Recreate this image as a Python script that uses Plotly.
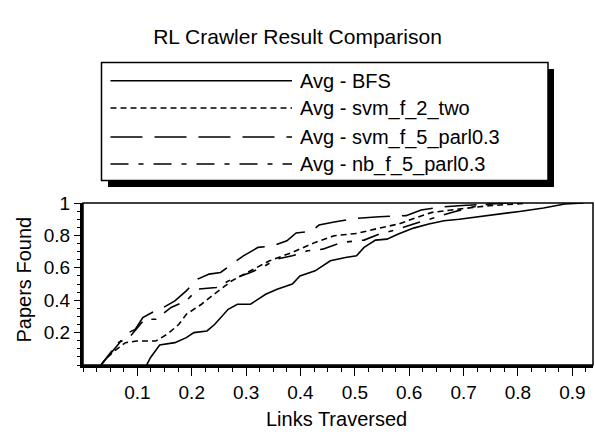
import plotly.graph_objects as go

# ---------------- data ----------------
bfs_x = [0.117, 0.124, 0.141, 0.169, 0.19, 0.204, 0.228, 0.242, 0.267, 0.284, 0.308, 0.336,
         0.357, 0.385, 0.399, 0.427, 0.455, 0.483, 0.503, 0.517, 0.538, 0.559, 0.58, 0.608,
         0.636, 0.664, 0.692, 0.72, 0.754, 0.803, 0.847, 0.886, 0.921]
bfs_y = [0.0, 0.045, 0.124, 0.138, 0.169, 0.2, 0.21, 0.25, 0.344, 0.375, 0.375, 0.437,
         0.468, 0.5, 0.55, 0.581, 0.643, 0.664, 0.674, 0.726, 0.771, 0.777, 0.808, 0.845,
         0.87, 0.89, 0.9, 0.911, 0.928, 0.948, 0.969, 0.994, 1.0]

svm2_x = [0.033, 0.044, 0.058, 0.078, 0.099, 0.134, 0.155, 0.176, 0.19, 0.218, 0.245, 0.274,
          0.302, 0.343, 0.385, 0.427, 0.462, 0.503, 0.545, 0.58, 0.614, 0.642, 0.692, 0.747,
          0.796, 0.817]
svm2_y = [0.0, 0.045, 0.087, 0.138, 0.148, 0.148, 0.19, 0.25, 0.313, 0.375, 0.447, 0.52,
          0.571, 0.643, 0.695, 0.757, 0.798, 0.812, 0.845, 0.87, 0.911, 0.942, 0.963, 0.983,
          0.994, 1.0]

svm5_x = [0.033, 0.05, 0.065, 0.078, 0.096, 0.11, 0.127, 0.148, 0.169, 0.19, 0.211, 0.232,
          0.253, 0.274, 0.295, 0.322, 0.35, 0.375, 0.392, 0.42, 0.434, 0.462, 0.503, 0.545,
          0.594, 0.622, 0.657, 0.698, 0.747, 0.782]
svm5_y = [0.0, 0.066, 0.128, 0.19, 0.22, 0.293, 0.324, 0.355, 0.396, 0.458, 0.53, 0.561,
          0.571, 0.623, 0.674, 0.726, 0.736, 0.767, 0.815, 0.825, 0.864, 0.883, 0.905, 0.915,
          0.922, 0.957, 0.975, 0.985, 0.994, 1.0]

nb_x = [0.033, 0.058, 0.065, 0.085, 0.113, 0.134, 0.162, 0.19, 0.211, 0.245, 0.274, 0.308,
        0.329, 0.357, 0.385, 0.413, 0.441, 0.476, 0.517, 0.545, 0.58, 0.608, 0.636, 0.678,
        0.713, 0.747, 0.768]
nb_y = [0.0, 0.107, 0.138, 0.169, 0.282, 0.282, 0.355, 0.396, 0.468, 0.478, 0.53, 0.571,
        0.602, 0.654, 0.674, 0.705, 0.715, 0.757, 0.771, 0.808, 0.839, 0.87, 0.9, 0.942,
        0.973, 0.994, 1.0]

series_names = ["Avg - BFS", "Avg - svm_f_2_two", "Avg - svm_f_5_parl0.3", "Avg - nb_f_5_parl0.3"]
series_x = [bfs_x, svm2_x, svm5_x, nb_x]
series_y = [bfs_y, svm2_y, svm5_y, nb_y]
series_dash = ["solid", "6px,4px", "32px,12px", "18px,10px,5px,10px"]

x_tickvals = [0.1, 0.2, 0.3, 0.4, 0.5, 0.6, 0.7, 0.8, 0.9]
x_ticktext = ["0.1", "0.2", "0.3", "0.4", "0.5", "0.6", "0.7", "0.8", "0.9"]
y_tickvals = [0.2, 0.4, 0.6, 0.8, 1.0]
y_ticktext = ["0.2", "0.4", "0.6", "0.8", "1"]

title_text = "RL Crawler Result Comparison"
x_title = "Links Traversed"
y_title = "Papers Found"

# ---------------- layout geometry ----------------
W, H = 595, 445
ML, MR, MT, MB = 83, 2, 203, 80
PW = W - ML - MR
PH = H - MT - MB
FONT = "Arial, Liberation Sans, sans-serif"


def px(xp):
    return (xp - ML) / PW


def py(yp):
    return (H - MB - yp) / PH


fig = go.Figure()
for name, xs, ys, dash in zip(series_names, series_x, series_y, series_dash):
    fig.add_trace(go.Scatter(x=xs, y=ys, mode="lines", name=name, showlegend=False,
                             line=dict(color="black", width=1.6, dash=dash)))

shapes = []
# legend shadow and box
shapes.append(dict(type="rect", xref="paper", yref="paper", x0=px(108), x1=px(554),
                   y0=py(187), y1=py(69), fillcolor="black", line=dict(width=0), layer="above"))
shapes.append(dict(type="rect", xref="paper", yref="paper", x0=px(101.5), x1=px(548),
                   y0=py(180.5), y1=py(62.5), fillcolor="white",
                   line=dict(color="black", width=1.5), layer="above"))
# plot frame (top / right thin)
shapes.append(dict(type="rect", xref="paper", yref="paper", x0=0, x1=1, y0=0, y1=1,
                   line=dict(color="black", width=1.5), layer="above"))

annotations = []
row_y = [80.7, 108, 137, 164]
for name, dash, ry in zip(series_names, series_dash, row_y):
    shapes.append(dict(type="line", xref="paper", yref="paper", x0=px(110.5), x1=px(292),
                       y0=py(ry), y1=py(ry), line=dict(color="black", width=1.6, dash=dash),
                       layer="above"))
    annotations.append(dict(text=name, xref="paper", yref="paper", x=px(298), y=py(ry),
                            xanchor="left", yanchor="middle", showarrow=False,
                            font=dict(family=FONT, size=20, color="black")))

annotations.append(dict(text=x_title, xref="paper", yref="paper", x=px(336), y=py(419),
                        xanchor="center", yanchor="middle", showarrow=False,
                        font=dict(family=FONT, size=20, color="black")))
annotations.append(dict(text=y_title, xref="paper", yref="paper", x=px(23.5), y=py(280),
                        xanchor="center", yanchor="middle", showarrow=False, textangle=-90,
                        font=dict(family=FONT, size=20, color="black")))

fig.update_layout(
    width=W, height=H,
    margin=dict(l=ML, r=MR, t=MT, b=MB, pad=0),
    paper_bgcolor="white", plot_bgcolor="white",
    font=dict(family=FONT, size=19, color="black"),
    title=dict(text=title_text, x=0.5, xref="container", xanchor="center",
               y=1 - 37 / H, yref="container", yanchor="middle",
               font=dict(family=FONT, size=21, color="black")),
    shapes=shapes, annotations=annotations,
    showlegend=False,
)
fig.update_xaxes(range=[0, 0.938], tickvals=x_tickvals, ticktext=x_ticktext,
                 showgrid=False, zeroline=False, showline=True, linecolor="black", linewidth=3,
                 ticks="outside", ticklen=8, tickwidth=1.2, tickcolor="black",
                 tickfont=dict(family=FONT, size=19, color="black"),
                 minor=dict(dtick=0.025, ticks="outside", ticklen=4, tickwidth=1, tickcolor="black",
                            showgrid=False))
fig.update_yaxes(range=[0, 1], tickvals=y_tickvals, ticktext=y_ticktext,
                 showgrid=False, zeroline=False, showline=True, linecolor="black", linewidth=3,
                 ticks="outside", ticklen=6, tickwidth=1.2, tickcolor="black",
                 tickfont=dict(family=FONT, size=19, color="black"),
                 minor=dict(dtick=0.05, ticks="outside", ticklen=3, tickwidth=1, tickcolor="black",
                            showgrid=False))

fig.write_html("out.html")
